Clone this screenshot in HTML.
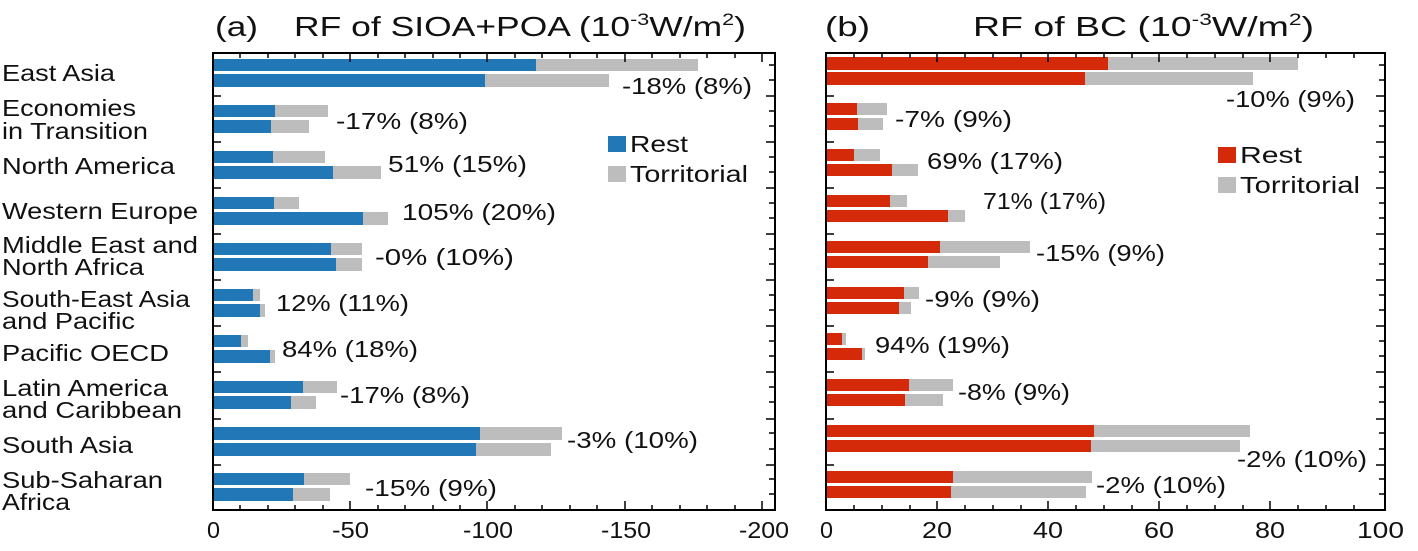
<!DOCTYPE html>
<html><head><meta charset="utf-8"><style>
html,body{margin:0;padding:0;background:#fff}
svg{display:block;font-family:"Liberation Sans",sans-serif}
.b{fill:#2277b6}.r{fill:#d42a0a}.g{fill:#bdbdbd}
text{font-size:23px;fill:#111}
</style></head><body>
<svg width="1418" height="551" viewBox="0 0 1418 551">
<text x="215" y="36" style="font-size:28px" textLength="43" lengthAdjust="spacingAndGlyphs">(a)</text>
<text x="294" y="36" style="font-size:28px" textLength="452" lengthAdjust="spacingAndGlyphs">RF of SIOA+POA (10<tspan dy="-11" style="font-size:17px">-3</tspan><tspan dy="11">W/m</tspan><tspan dy="-11" style="font-size:17px">2</tspan><tspan dy="11">)</tspan></text>
<text x="825" y="36" style="font-size:28px" textLength="45" lengthAdjust="spacingAndGlyphs">(b)</text>
<text x="973" y="36" style="font-size:28px" textLength="341" lengthAdjust="spacingAndGlyphs">RF of BC (10<tspan dy="-11" style="font-size:17px">-3</tspan><tspan dy="11">W/m</tspan><tspan dy="-11" style="font-size:17px">2</tspan><tspan dy="11">)</tspan></text>
<g>
<text x="2" y="81" textLength="113" lengthAdjust="spacingAndGlyphs">East Asia</text>
<text x="2" y="116" textLength="134" lengthAdjust="spacingAndGlyphs">Economies</text><text x="2" y="139" textLength="146" lengthAdjust="spacingAndGlyphs">in Transition</text>
<text x="2" y="174" textLength="173" lengthAdjust="spacingAndGlyphs">North America</text>
<text x="2" y="219" textLength="196" lengthAdjust="spacingAndGlyphs">Western Europe</text>
<text x="2" y="253" textLength="196" lengthAdjust="spacingAndGlyphs">Middle East and</text><text x="2" y="275" textLength="142" lengthAdjust="spacingAndGlyphs">North Africa</text>
<text x="2" y="307" textLength="188" lengthAdjust="spacingAndGlyphs">South-East Asia</text><text x="2" y="329" textLength="133" lengthAdjust="spacingAndGlyphs">and Pacific</text>
<text x="2" y="361" textLength="167" lengthAdjust="spacingAndGlyphs">Pacific OECD</text>
<text x="2" y="396" textLength="166" lengthAdjust="spacingAndGlyphs">Latin America</text><text x="2" y="418" textLength="180" lengthAdjust="spacingAndGlyphs">and Caribbean</text>
<text x="2" y="453" textLength="131" lengthAdjust="spacingAndGlyphs">South Asia</text>
<text x="2" y="488" textLength="161" lengthAdjust="spacingAndGlyphs">Sub-Saharan</text><text x="2" y="510" textLength="68" lengthAdjust="spacingAndGlyphs">Africa</text>
</g>
<g>
<rect class="g" x="213" y="59" width="485" height="12"/><rect class="b" x="213" y="59" width="323" height="12"/>
<rect class="g" x="213" y="74" width="396" height="13"/><rect class="b" x="213" y="74" width="272" height="13"/>
<rect class="g" x="213" y="105" width="115" height="12"/><rect class="b" x="213" y="105" width="62" height="12"/>
<rect class="g" x="213" y="120" width="96" height="13"/><rect class="b" x="213" y="120" width="58" height="13"/>
<rect class="g" x="213" y="151" width="112" height="12"/><rect class="b" x="213" y="151" width="60" height="12"/>
<rect class="g" x="213" y="166" width="168" height="13"/><rect class="b" x="213" y="166" width="120" height="13"/>
<rect class="g" x="213" y="197" width="86" height="12"/><rect class="b" x="213" y="197" width="61" height="12"/>
<rect class="g" x="213" y="212" width="175" height="13"/><rect class="b" x="213" y="212" width="150" height="13"/>
<rect class="g" x="213" y="243" width="149" height="12"/><rect class="b" x="213" y="243" width="118" height="12"/>
<rect class="g" x="213" y="258" width="149" height="13"/><rect class="b" x="213" y="258" width="123" height="13"/>
<rect class="g" x="213" y="289" width="47" height="12"/><rect class="b" x="213" y="289" width="40" height="12"/>
<rect class="g" x="213" y="304" width="52" height="13"/><rect class="b" x="213" y="304" width="47" height="13"/>
<rect class="g" x="213" y="335" width="35" height="12"/><rect class="b" x="213" y="335" width="28" height="12"/>
<rect class="g" x="213" y="350" width="62" height="13"/><rect class="b" x="213" y="350" width="57" height="13"/>
<rect class="g" x="213" y="381" width="124" height="12"/><rect class="b" x="213" y="381" width="90" height="12"/>
<rect class="g" x="213" y="396" width="103" height="13"/><rect class="b" x="213" y="396" width="78" height="13"/>
<rect class="g" x="213" y="427" width="349" height="13"/><rect class="b" x="213" y="427" width="267" height="13"/>
<rect class="g" x="213" y="443" width="338" height="13"/><rect class="b" x="213" y="443" width="263" height="13"/>
<rect class="g" x="213" y="473" width="137" height="12"/><rect class="b" x="213" y="473" width="91" height="12"/>
<rect class="g" x="213" y="488" width="117" height="13"/><rect class="b" x="213" y="488" width="80" height="13"/>
</g>
<g>
<rect class="g" x="827" y="57" width="471" height="13"/><rect class="r" x="827" y="57" width="281" height="13"/>
<rect class="g" x="827" y="72" width="426" height="13"/><rect class="r" x="827" y="72" width="258" height="13"/>
<rect class="g" x="827" y="103" width="60" height="12"/><rect class="r" x="827" y="103" width="30" height="12"/>
<rect class="g" x="827" y="118" width="56" height="12"/><rect class="r" x="827" y="118" width="31" height="12"/>
<rect class="g" x="827" y="149" width="53" height="12"/><rect class="r" x="827" y="149" width="27" height="12"/>
<rect class="g" x="827" y="164" width="91" height="12"/><rect class="r" x="827" y="164" width="65" height="12"/>
<rect class="g" x="827" y="195" width="80" height="12"/><rect class="r" x="827" y="195" width="63" height="12"/>
<rect class="g" x="827" y="210" width="138" height="12"/><rect class="r" x="827" y="210" width="121" height="12"/>
<rect class="g" x="827" y="241" width="203" height="12"/><rect class="r" x="827" y="241" width="113" height="12"/>
<rect class="g" x="827" y="256" width="173" height="12"/><rect class="r" x="827" y="256" width="101" height="12"/>
<rect class="g" x="827" y="287" width="92" height="12"/><rect class="r" x="827" y="287" width="77" height="12"/>
<rect class="g" x="827" y="302" width="84" height="12"/><rect class="r" x="827" y="302" width="72" height="12"/>
<rect class="g" x="827" y="333" width="19" height="12"/><rect class="r" x="827" y="333" width="15" height="12"/>
<rect class="g" x="827" y="348" width="38" height="12"/><rect class="r" x="827" y="348" width="35" height="12"/>
<rect class="g" x="827" y="379" width="126" height="12"/><rect class="r" x="827" y="379" width="82" height="12"/>
<rect class="g" x="827" y="394" width="116" height="12"/><rect class="r" x="827" y="394" width="78" height="12"/>
<rect class="g" x="827" y="425" width="423" height="12"/><rect class="r" x="827" y="425" width="267" height="12"/>
<rect class="g" x="827" y="440" width="413" height="12"/><rect class="r" x="827" y="440" width="264" height="12"/>
<rect class="g" x="827" y="471" width="265" height="12"/><rect class="r" x="827" y="471" width="126" height="12"/>
<rect class="g" x="827" y="486" width="259" height="12"/><rect class="r" x="827" y="486" width="124" height="12"/>
</g>
<rect x="213" y="53" width="562" height="457" fill="none" stroke="#000" stroke-width="2"/>
<rect x="826" y="53" width="559" height="457" fill="none" stroke="#000" stroke-width="2"/>
<g stroke="#000" stroke-width="1.5">
<path d="M213,510v-9M350,510v-9M487,510v-9M625,510v-9M762,510v-9M213,53v9M350,53v9M487,53v9M625,53v9M762,53v9"/>
<path d="M240,510v-5M268,510v-5M295,510v-5M323,510v-5M378,510v-5M405,510v-5M433,510v-5M460,510v-5M515,510v-5M542,510v-5M570,510v-5M597,510v-5M652,510v-5M680,510v-5M707,510v-5M735,510v-5"/>
<path d="M240,53v5M268,53v5M295,53v5M323,53v5M378,53v5M405,53v5M433,53v5M460,53v5M515,53v5M542,53v5M570,53v5M597,53v5M652,53v5M680,53v5M707,53v5M735,53v5"/>
<path d="M937,510v-9M1048,510v-9M1159,510v-9M1270,510v-9M937,53v9M1048,53v9M1159,53v9M1270,53v9"/>
<path d="M854,510v-5M882,510v-5M910,510v-5M965,510v-5M993,510v-5M1021,510v-5M1076,510v-5M1104,510v-5M1132,510v-5M1187,510v-5M1215,510v-5M1243,510v-5M1298,510v-5M1326,510v-5M1354,510v-5"/>
<path d="M854,53v5M882,53v5M910,53v5M965,53v5M993,53v5M1021,53v5M1076,53v5M1104,53v5M1132,53v5M1187,53v5M1215,53v5M1243,53v5M1298,53v5M1326,53v5M1354,53v5"/>
<path d="M213,96h8M213,142h8M213,188h8M213,234h8M213,280h8M213,326h8M213,372h8M213,419h8M213,465h8"/>
<path d="M775,96h-9M775,142h-9M775,188h-9M775,234h-9M775,280h-9M775,326h-9M775,372h-9M775,419h-9M775,465h-9"/>
<path d="M775,65h-6M775,80h-6M775,111h-6M775,126h-6M775,157h-6M775,172h-6M775,203h-6M775,218h-6M775,249h-6M775,264h-6M775,295h-6M775,310h-6M775,341h-6M775,356h-6M775,387h-6M775,402h-6M775,433h-6M775,449h-6M775,479h-6M775,494h-6"/>
<path d="M826,96h8M826,142h8M826,188h8M826,234h8M826,280h8M826,326h8M826,372h8M826,419h8M826,465h8"/>
<path d="M1385,96h-9M1385,142h-9M1385,188h-9M1385,234h-9M1385,280h-9M1385,326h-9M1385,372h-9M1385,419h-9M1385,465h-9"/>
<path d="M1385,65h-6M1385,80h-6M1385,111h-6M1385,126h-6M1385,157h-6M1385,172h-6M1385,203h-6M1385,218h-6M1385,249h-6M1385,264h-6M1385,295h-6M1385,310h-6M1385,341h-6M1385,356h-6M1385,387h-6M1385,402h-6M1385,433h-6M1385,449h-6M1385,479h-6M1385,494h-6"/>
</g>
<g style="font-size:24px">
<text x="207" y="538" textLength="13" lengthAdjust="spacingAndGlyphs">0</text>
<text x="332" y="538" textLength="37" lengthAdjust="spacingAndGlyphs">-50</text>
<text x="463" y="538" textLength="50" lengthAdjust="spacingAndGlyphs">-100</text>
<text x="601" y="538" textLength="50" lengthAdjust="spacingAndGlyphs">-150</text>
<text x="739" y="538" textLength="50" lengthAdjust="spacingAndGlyphs">-200</text>
<text x="820" y="538" textLength="13" lengthAdjust="spacingAndGlyphs">0</text>
<text x="922" y="538" textLength="30" lengthAdjust="spacingAndGlyphs">20</text>
<text x="1033" y="538" textLength="30" lengthAdjust="spacingAndGlyphs">40</text>
<text x="1144" y="538" textLength="30" lengthAdjust="spacingAndGlyphs">60</text>
<text x="1255" y="538" textLength="30" lengthAdjust="spacingAndGlyphs">80</text>
<text x="1357" y="538" textLength="47" lengthAdjust="spacingAndGlyphs">100</text>
</g>
<g>
<text x="622" y="94" textLength="130" lengthAdjust="spacingAndGlyphs">-18% (8%)</text>
<text x="336" y="129" textLength="132" lengthAdjust="spacingAndGlyphs">-17% (8%)</text>
<text x="388" y="172" textLength="139" lengthAdjust="spacingAndGlyphs">51% (15%)</text>
<text x="402" y="220" textLength="154" lengthAdjust="spacingAndGlyphs">105% (20%)</text>
<text x="375" y="265" textLength="139" lengthAdjust="spacingAndGlyphs">-0% (10%)</text>
<text x="276" y="311" textLength="133" lengthAdjust="spacingAndGlyphs">12% (11%)</text>
<text x="282" y="357" textLength="136" lengthAdjust="spacingAndGlyphs">84% (18%)</text>
<text x="340" y="403" textLength="130" lengthAdjust="spacingAndGlyphs">-17% (8%)</text>
<text x="567" y="448" textLength="131" lengthAdjust="spacingAndGlyphs">-3% (10%)</text>
<text x="365" y="496" textLength="132" lengthAdjust="spacingAndGlyphs">-15% (9%)</text>
<text x="1226" y="107" textLength="129" lengthAdjust="spacingAndGlyphs">-10% (9%)</text>
<text x="895" y="127" textLength="117" lengthAdjust="spacingAndGlyphs">-7% (9%)</text>
<text x="927" y="169" textLength="136" lengthAdjust="spacingAndGlyphs">69% (17%)</text>
<text x="983" y="209" textLength="123" lengthAdjust="spacingAndGlyphs">71% (17%)</text>
<text x="1036" y="261" textLength="129" lengthAdjust="spacingAndGlyphs">-15% (9%)</text>
<text x="925" y="307" textLength="115" lengthAdjust="spacingAndGlyphs">-9% (9%)</text>
<text x="875" y="353" textLength="135" lengthAdjust="spacingAndGlyphs">94% (19%)</text>
<text x="958" y="400" textLength="112" lengthAdjust="spacingAndGlyphs">-8% (9%)</text>
<text x="1237" y="467" textLength="130" lengthAdjust="spacingAndGlyphs">-2% (10%)</text>
<text x="1096" y="493" textLength="130" lengthAdjust="spacingAndGlyphs">-2% (10%)</text>
</g>
<rect class="b" x="608" y="136" width="18" height="16"/><text x="630" y="152" textLength="58" lengthAdjust="spacingAndGlyphs">Rest</text>
<rect class="g" x="608" y="166" width="18" height="16"/><text x="630" y="182" textLength="118" lengthAdjust="spacingAndGlyphs">Torritorial</text>
<rect class="r" x="1218" y="147" width="18" height="16"/><text x="1240" y="163" textLength="62" lengthAdjust="spacingAndGlyphs">Rest</text>
<rect class="g" x="1218" y="177" width="18" height="16"/><text x="1240" y="193" textLength="120" lengthAdjust="spacingAndGlyphs">Torritorial</text>
</svg>
</body></html>
